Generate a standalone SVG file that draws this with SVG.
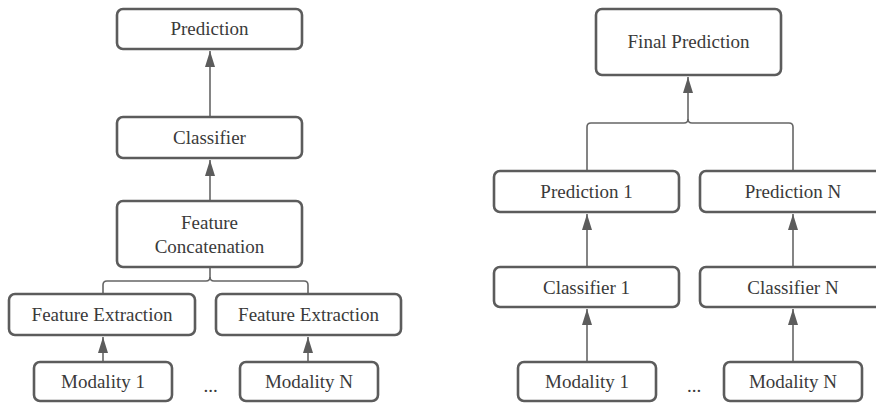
<svg xmlns="http://www.w3.org/2000/svg" width="876" height="403" viewBox="0 0 876 403">
  <style>
    .box { fill: #ffffff; stroke: #5c5c5c; stroke-width: 2.6; }
    .lbl { font-size: 19px; fill: #3a3a3a; text-anchor: middle; }
    .wire { fill: none; stroke: #666666; stroke-width: 1.6; }
  </style>
  <defs>
    <marker id="head" markerUnits="userSpaceOnUse" markerWidth="16" markerHeight="10" refX="16" refY="5" orient="auto">
      <path d="M0,0 L16,5 L0,10 Z" fill="#5c5c5c"/>
    </marker>
  </defs>
  <rect width="876" height="403" fill="#ffffff"/>

  <!-- connectors -->
  <g id="connectors" class="wire">
    <!-- early fusion -->
    <path d="M210 117 V51" marker-end="url(#head)"/>
    <path d="M210 201 V160" marker-end="url(#head)"/>
    <path d="M103 294 V285 Q103 281 107 281 H206 Q210 281 210 277 V267"/>
    <path d="M308 294 V285 Q308 281 304 281 H214 Q210 281 210 277"/>
    <path d="M103 362 V337" marker-end="url(#head)"/>
    <path d="M308 362 V337" marker-end="url(#head)"/>
    <!-- late fusion -->
    <path d="M587 171 V127 Q587 123 591 123 H684 Q688 123 688 119 V77" marker-end="url(#head)"/>
    <path d="M793 171 V127 Q793 123 789 123 H692 Q688 123 688 119"/>
    <path d="M587 267 V214" marker-end="url(#head)"/>
    <path d="M793 267 V214" marker-end="url(#head)"/>
    <path d="M587 362 V309" marker-end="url(#head)"/>
    <path d="M793 362 V309" marker-end="url(#head)"/>
  </g>

  <g font-family="'Liberation Serif', 'DejaVu Serif', serif">
  <!-- early fusion nodes -->
  <g id="prediction">
    <rect class="box" x="117" y="9" width="185" height="40" rx="6"/>
    <text class="lbl" x="209.5" y="35">Prediction</text>
  </g>
  <g id="classifier">
    <rect class="box" x="117" y="117" width="185" height="41" rx="6"/>
    <text class="lbl" x="209.5" y="144">Classifier</text>
  </g>
  <g id="feature-concatenation">
    <rect class="box" x="117" y="201" width="185" height="66" rx="6"/>
    <text class="lbl" x="209.5" y="229">Feature</text>
    <text class="lbl" x="209.5" y="252.5">Concatenation</text>
  </g>
  <g id="feature-extraction-1">
    <rect class="box" x="9" y="294" width="186" height="41" rx="6"/>
    <text class="lbl" x="102" y="321">Feature Extraction</text>
  </g>
  <g id="feature-extraction-n">
    <rect class="box" x="216" y="294" width="185" height="41" rx="6"/>
    <text class="lbl" x="308.5" y="321">Feature Extraction</text>
  </g>
  <g id="modality-1-a">
    <rect class="box" x="34" y="362" width="138" height="39" rx="6"/>
    <text class="lbl" x="103" y="388">Modality 1</text>
  </g>
  <g id="modality-n-a">
    <rect class="box" x="240" y="362" width="138" height="39" rx="6"/>
    <text class="lbl" x="309" y="388">Modality N</text>
  </g>
  <text class="lbl" x="210.5" y="392">...</text>

  <!-- late fusion nodes -->
  <g id="final-prediction">
    <rect class="box" x="596" y="9" width="185" height="66" rx="6"/>
    <text class="lbl" x="688.5" y="48">Final Prediction</text>
  </g>
  <g id="prediction-1">
    <rect class="box" x="494" y="171" width="185" height="41" rx="6"/>
    <text class="lbl" x="586.5" y="198">Prediction 1</text>
  </g>
  <g id="prediction-n">
    <rect class="box" x="700" y="171" width="186" height="41" rx="6"/>
    <text class="lbl" x="793" y="198">Prediction N</text>
  </g>
  <g id="classifier-1">
    <rect class="box" x="494" y="267" width="185" height="40" rx="6"/>
    <text class="lbl" x="586.5" y="293.5">Classifier 1</text>
  </g>
  <g id="classifier-n">
    <rect class="box" x="700" y="267" width="186" height="40" rx="6"/>
    <text class="lbl" x="793" y="293.5">Classifier N</text>
  </g>
  <g id="modality-1-b">
    <rect class="box" x="518" y="362" width="138" height="39" rx="6"/>
    <text class="lbl" x="587" y="388">Modality 1</text>
  </g>
  <g id="modality-n-b">
    <rect class="box" x="724" y="362" width="138" height="39" rx="6"/>
    <text class="lbl" x="793" y="388">Modality N</text>
  </g>
  <text class="lbl" x="694" y="392">...</text>
  </g>
</svg>
